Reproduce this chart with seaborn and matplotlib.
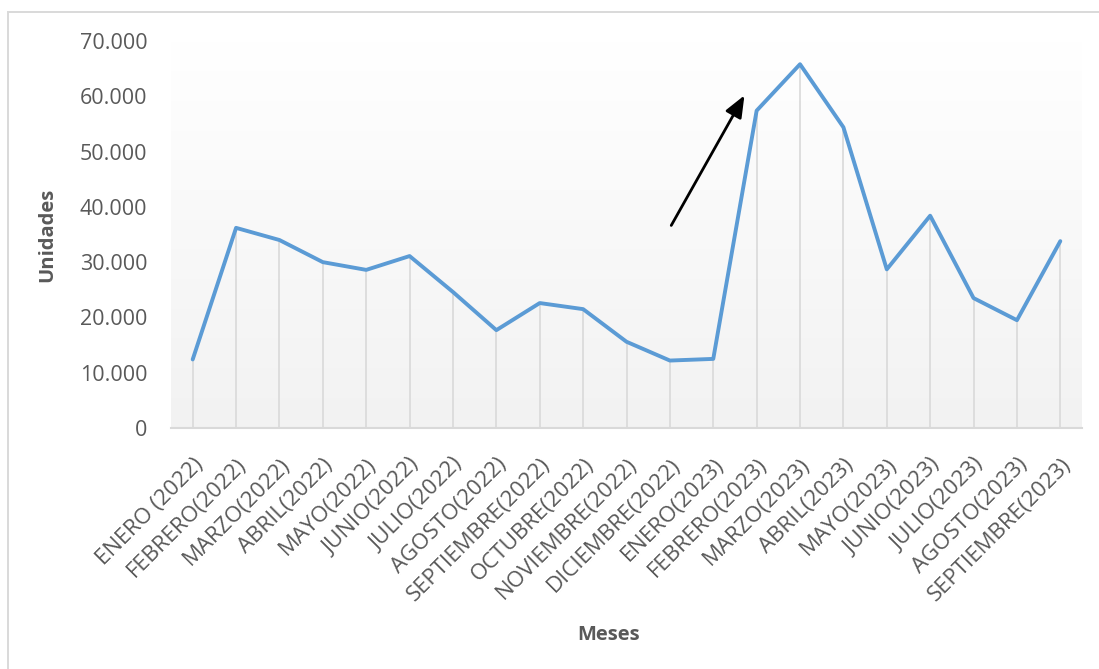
import numpy as np
import pandas as pd
import matplotlib
matplotlib.use("Agg")
import matplotlib.pyplot as plt
from matplotlib.patches import Rectangle
import seaborn as sns

# Monthly units
meses = [
    "ENERO (2022)", "FEBRERO(2022)", "MARZO(2022)", "ABRIL(2022)", "MAYO(2022)",
    "JUNIO(2022)", "JULIO(2022)", "AGOSTO(2022)", "SEPTIEMBRE(2022)", "OCTUBRE(2022)",
    "NOVIEMBRE(2022)", "DICIEMBRE(2022)", "ENERO(2023)", "FEBRERO(2023)", "MARZO(2023)",
    "ABRIL(2023)", "MAYO(2023)", "JUNIO(2023)", "JULIO(2023)", "AGOSTO(2023)",
    "SEPTIEMBRE(2023)",
]
unidades = [
    12400, 36200, 34000, 30000, 28600, 31100, 24600, 17700, 22600, 21500,
    15600, 12200, 12500, 57400, 65800, 54400, 28700, 38400, 23500, 19500, 33800,
]
y_ticks = [0, 10000, 20000, 30000, 40000, 50000, 60000, 70000]

df = pd.DataFrame({"idx": np.arange(len(meses)), "mes": meses, "unidades": unidades})

sns.set_theme(style="white")
plt.rcParams["font.family"] = ["Open Sans", "DejaVu Sans"]

TEXT = "#595959"
LINE = "#5B9BD5"
GRID = "#d9d9d9"

fig = plt.figure(figsize=(10.99, 6.69), dpi=100)
fig.patch.set_facecolor("white")
ax = fig.add_axes([171 / 1099, 1 - 428 / 669, (1082 - 171) / 1099, (428 - 41) / 669])

# Outer chart frame
fig.patches.append(Rectangle((8 / 1099, -0.05), 1.2, 1 - 12 / 669 + 0.05,
                             transform=fig.transFigure, fill=False,
                             edgecolor=GRID, linewidth=1.4, zorder=0))

# Plot area gradient: white at top, light gray at bottom
cmap = matplotlib.colors.LinearSegmentedColormap.from_list("bg", ["#f2f2f2", "#ffffff"])
ax.imshow(np.linspace(0, 1, 256).reshape(-1, 1), extent=[0, 1, 0, 1],
          transform=ax.transAxes, aspect="auto", cmap=cmap, origin="lower",
          zorder=0, vmin=0, vmax=1)

# Drop lines from each point down to the axis
ax.vlines(df["idx"], 0, df["unidades"], colors=GRID, linewidth=1.2, zorder=1)

sns.lineplot(data=df, x="idx", y="unidades", sort=False, color=LINE,
             linewidth=2.8, ax=ax, zorder=3)

ax.set_xlim(-0.5, len(meses) - 0.5)
ax.set_ylim(0, 70000)
ax.set_yticks(y_ticks)
ax.set_yticklabels([f"{v:,}".replace(",", ".") for v in y_ticks])
ax.set_xticks(df["idx"])
ax.set_xticklabels(meses, rotation=45, ha="right", rotation_mode="anchor")

ax.tick_params(axis="y", length=0, colors=TEXT, labelsize=15.5, pad=17)
ax.tick_params(axis="x", length=0, colors=TEXT, labelsize=16, pad=19)

for s in ["top", "right", "left"]:
    ax.spines[s].set_visible(False)
ax.spines["bottom"].set_color(GRID)
ax.spines["bottom"].set_linewidth(1.5)
ax.grid(False)

ax.set_xlabel("Meses", fontsize=14.5, fontweight="bold", color=TEXT)
ax.set_ylabel("Unidades", fontsize=14.5, fontweight="bold", color=TEXT)
ax.xaxis.set_label_coords(0.48, -0.51)
ax.yaxis.set_label_coords(-0.125, 0.5)

# Arrow pointing to the 2023 surge
ax.annotate("", xy=(12.75, 60600), xytext=(11.0, 36200),
            arrowprops=dict(arrowstyle="-|>,head_length=1.1,head_width=0.45",
                            color="black", linewidth=2.0),
            zorder=5)

fig.savefig("out.png", dpi=100)
